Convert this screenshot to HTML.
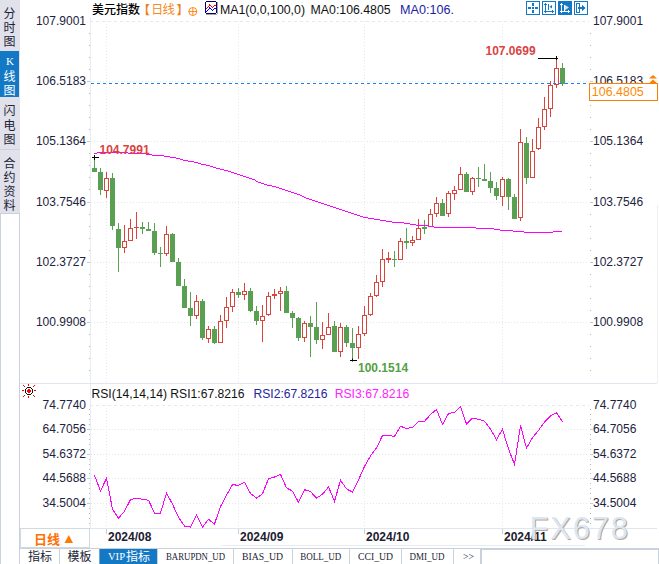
<!DOCTYPE html><html><head><meta charset="utf-8"><style>
html,body{margin:0;padding:0;background:#fff;width:659px;height:564px;overflow:hidden}
svg{display:block}
text{font-family:"Liberation Sans", Arial, sans-serif}
.cjk{font-family:"Liberation Sans", "Noto Sans CJK SC", sans-serif}
.sm{font-family:"Liberation Serif", "Noto Sans CJK SC", serif}
</style></head><body>
<svg width="659" height="564" viewBox="0 0 659 564">
<rect x="0" y="0" width="659" height="564" fill="#fff"/>
<rect x="0" y="0" width="20" height="213" fill="#e0e1eb"/>
<rect x="0" y="51" width="19" height="46" fill="#1479c4"/>
<rect x="0" y="149" width="20" height="1" fill="#cdd4dd"/>
<rect x="0" y="213" width="20" height="351" fill="#fff"/>
<rect x="0" y="213" width="20" height="1" fill="#c9d2dc"/>
<rect x="0" y="213" width="1" height="351" fill="#c9d2dc"/>
<rect x="19" y="213" width="1" height="351" fill="#c9d2dc"/>
<text class="sm" x="9.5" y="17.7" font-size="12" fill="#1b2535" text-anchor="middle">分</text>
<text class="sm" x="9.5" y="31.7" font-size="12" fill="#1b2535" text-anchor="middle">时</text>
<text class="sm" x="9.5" y="45.9" font-size="12" fill="#1b2535" text-anchor="middle">图</text>
<text x="10" y="65" font-size="11" fill="#fff" text-anchor="middle" style="font-family:'Liberation Serif', serif">K</text>
<text class="sm" x="9.5" y="80.7" font-size="12" fill="#ffffff" text-anchor="middle">线</text>
<text class="sm" x="9.5" y="94.9" font-size="12" fill="#ffffff" text-anchor="middle">图</text>
<text class="sm" x="9.5" y="115.1" font-size="12" fill="#1b2535" text-anchor="middle">闪</text>
<text class="sm" x="9.5" y="129.6" font-size="12" fill="#1b2535" text-anchor="middle">电</text>
<text class="sm" x="9.5" y="143.8" font-size="12" fill="#1b2535" text-anchor="middle">图</text>
<text class="sm" x="9.5" y="168.1" font-size="12" fill="#1b2535" text-anchor="middle">合</text>
<text class="sm" x="9.5" y="182.3" font-size="12" fill="#1b2535" text-anchor="middle">约</text>
<text class="sm" x="9.5" y="195.5" font-size="12" fill="#1b2535" text-anchor="middle">资</text>
<text class="sm" x="9.5" y="210.3" font-size="12" fill="#1b2535" text-anchor="middle">料</text>
<text class="cjk" x="92" y="14" font-size="12" font-weight="500" fill="#000">美元指数</text>
<text class="cjk" x="138" y="15" font-size="12" fill="#f07d1a" font-weight="bold">【</text>
<text class="cjk" x="151.2" y="14" font-size="12" fill="#f58a1f">日</text>
<text class="cjk" x="162.4" y="14" font-size="12.5" fill="#f58a1f">线</text>
<text class="cjk" x="176.5" y="15" font-size="12" fill="#f07d1a" font-weight="bold">】</text>
<g stroke="#ff8a20" fill="none" stroke-width="1"><circle cx="192.8" cy="11.5" r="4"/><path d="M188.8 11.5h8M192.8 7.5v8"/></g>
<rect x="206" y="2" width="10" height="11" fill="#fff"/><rect x="206" y="14" width="11" height="1" fill="#a8a898"/><rect x="217" y="2" width="1" height="12" fill="#a8a898"/><g fill="#00007c"><rect x="206" y="1" width="10" height="1"/><rect x="205" y="2" width="1" height="11"/><rect x="216" y="2" width="1" height="11"/><rect x="206" y="13" width="10" height="1"/></g><g fill="#ff0000"><rect x="206" y="8" width="1" height="1"/><rect x="207" y="7" width="1" height="1"/><rect x="208" y="6" width="1" height="1"/><rect x="209" y="5" width="1" height="1"/><rect x="209" y="4" width="1" height="1"/><rect x="210" y="5" width="1" height="1"/><rect x="211" y="6" width="1" height="1"/><rect x="212" y="7" width="1" height="1"/><rect x="213" y="6" width="1" height="1"/><rect x="214" y="5" width="1" height="1"/><rect x="215" y="5" width="1" height="1"/></g><g fill="#0000ff"><rect x="206" y="11" width="1" height="1"/><rect x="207" y="10" width="1" height="1"/><rect x="208" y="9" width="1" height="1"/><rect x="209" y="8" width="1" height="1"/><rect x="209" y="7" width="1" height="1"/><rect x="210" y="8" width="1" height="1"/><rect x="211" y="9" width="1" height="1"/><rect x="212" y="10" width="1" height="1"/><rect x="213" y="9" width="1" height="1"/><rect x="214" y="8" width="1" height="1"/><rect x="215" y="8" width="1" height="1"/></g>
<text x="220" y="14" font-size="12.5" fill="#111" textLength="85" lengthAdjust="spacingAndGlyphs">MA1(0,0,100,0)</text>
<text x="310.6" y="14" font-size="12.5" fill="#111" textLength="80" lengthAdjust="spacingAndGlyphs">MA0:106.4805</text>
<text x="400" y="14" font-size="12.5" fill="#1c1ca6" textLength="54" lengthAdjust="spacingAndGlyphs">MA0:106.</text>
<rect x="526.5" y="1.5" width="13" height="13" fill="#fff" stroke="#1479c4"/>
<rect x="542.5" y="1.5" width="13" height="13" fill="#fff" stroke="#1479c4"/>
<rect x="558" y="1" width="14" height="14" fill="#1479c4"/>
<rect x="574.5" y="1.5" width="13" height="13" fill="#fff" stroke="#1479c4"/>
<g fill="#1479c4"><rect x="532" y="3" width="2" height="3"/><rect x="532" y="7" width="2" height="2"/><rect x="532" y="10" width="2" height="3"/><rect x="528" y="7" width="3" height="2"/><rect x="535" y="7" width="3" height="2"/></g>
<g fill="#1479c4"><rect x="545" y="3" width="1" height="10"/><rect x="544" y="4" width="3" height="1"/><rect x="544" y="11" width="10" height="1"/><rect x="552" y="10" width="1" height="3"/><rect x="548" y="4" width="1" height="6"/></g>
<path d="M549.5 6.8L552 5v3.6z" fill="#1479c4"/>
<g fill="#fff"><rect x="561" y="3" width="1" height="10"/><rect x="560" y="4" width="3" height="1"/><rect x="560" y="11" width="10" height="1"/><rect x="568" y="10" width="1" height="3"/><rect x="564" y="5" width="1" height="6"/></g>
<path d="M565 5L569 7.6L565 10.2z" fill="#cfe2f3"/>
<rect x="576.5" y="3.5" width="3" height="9" fill="none" stroke="#1479c4"/>
<path d="M578 7h4v-2.2L585.6 8L582 11.2V9h-4z" fill="#1479c4"/>
<line x1="90" y1="21.5" x2="589" y2="21.5" stroke="#e4e9ee" stroke-dasharray="3 3"/>
<text x="86" y="24.5" font-size="12" fill="#1c2340" text-anchor="end">107.9001</text>
<text x="593" y="24.5" font-size="12" fill="#1c2340">107.9001</text>
<line x1="91" y1="81.5" x2="589" y2="81.5" stroke="#e2e7ec" stroke-dasharray="1 2"/>
<text x="86" y="84.5" font-size="12" fill="#1c2340" text-anchor="end">106.5183</text>
<text x="593" y="84.5" font-size="12" fill="#1c2340">106.5183</text>
<line x1="91" y1="141.5" x2="589" y2="141.5" stroke="#e2e7ec" stroke-dasharray="1 2"/>
<text x="86" y="144.5" font-size="12" fill="#1c2340" text-anchor="end">105.1364</text>
<text x="593" y="144.5" font-size="12" fill="#1c2340">105.1364</text>
<line x1="91" y1="202.5" x2="589" y2="202.5" stroke="#e2e7ec" stroke-dasharray="1 2"/>
<text x="86" y="205.5" font-size="12" fill="#1c2340" text-anchor="end">103.7546</text>
<text x="593" y="205.5" font-size="12" fill="#1c2340">103.7546</text>
<line x1="91" y1="262.5" x2="589" y2="262.5" stroke="#e2e7ec" stroke-dasharray="1 2"/>
<text x="86" y="265.5" font-size="12" fill="#1c2340" text-anchor="end">102.3727</text>
<text x="593" y="265.5" font-size="12" fill="#1c2340">102.3727</text>
<line x1="91" y1="322.5" x2="589" y2="322.5" stroke="#e2e7ec" stroke-dasharray="1 2"/>
<text x="86" y="325.5" font-size="12" fill="#1c2340" text-anchor="end">100.9908</text>
<text x="593" y="325.5" font-size="12" fill="#1c2340">100.9908</text>
<rect x="87" y="81" width="3" height="1" fill="#c6c9cf"/>
<rect x="590" y="81" width="3" height="1" fill="#c6c9cf"/>
<rect x="87" y="141" width="3" height="1" fill="#c6c9cf"/>
<rect x="590" y="141" width="3" height="1" fill="#c6c9cf"/>
<rect x="87" y="202" width="3" height="1" fill="#c6c9cf"/>
<rect x="590" y="202" width="3" height="1" fill="#c6c9cf"/>
<rect x="87" y="262" width="3" height="1" fill="#c6c9cf"/>
<rect x="590" y="262" width="3" height="1" fill="#c6c9cf"/>
<rect x="87" y="322" width="3" height="1" fill="#c6c9cf"/>
<rect x="590" y="322" width="3" height="1" fill="#c6c9cf"/>
<rect x="89" y="33" width="1" height="1" fill="#aeb5bd"/>
<rect x="590" y="33" width="1" height="1" fill="#aeb5bd"/>
<rect x="89" y="45" width="1" height="1" fill="#aeb5bd"/>
<rect x="590" y="45" width="1" height="1" fill="#aeb5bd"/>
<rect x="89" y="57" width="1" height="1" fill="#aeb5bd"/>
<rect x="590" y="57" width="1" height="1" fill="#aeb5bd"/>
<rect x="89" y="69" width="1" height="1" fill="#aeb5bd"/>
<rect x="590" y="69" width="1" height="1" fill="#aeb5bd"/>
<rect x="89" y="93" width="1" height="1" fill="#aeb5bd"/>
<rect x="590" y="93" width="1" height="1" fill="#aeb5bd"/>
<rect x="89" y="105" width="1" height="1" fill="#aeb5bd"/>
<rect x="590" y="105" width="1" height="1" fill="#aeb5bd"/>
<rect x="89" y="117" width="1" height="1" fill="#aeb5bd"/>
<rect x="590" y="117" width="1" height="1" fill="#aeb5bd"/>
<rect x="89" y="129" width="1" height="1" fill="#aeb5bd"/>
<rect x="590" y="129" width="1" height="1" fill="#aeb5bd"/>
<rect x="89" y="153" width="1" height="1" fill="#aeb5bd"/>
<rect x="590" y="153" width="1" height="1" fill="#aeb5bd"/>
<rect x="89" y="165" width="1" height="1" fill="#aeb5bd"/>
<rect x="590" y="165" width="1" height="1" fill="#aeb5bd"/>
<rect x="89" y="177" width="1" height="1" fill="#aeb5bd"/>
<rect x="590" y="177" width="1" height="1" fill="#aeb5bd"/>
<rect x="89" y="189" width="1" height="1" fill="#aeb5bd"/>
<rect x="590" y="189" width="1" height="1" fill="#aeb5bd"/>
<rect x="89" y="214" width="1" height="1" fill="#aeb5bd"/>
<rect x="590" y="214" width="1" height="1" fill="#aeb5bd"/>
<rect x="89" y="226" width="1" height="1" fill="#aeb5bd"/>
<rect x="590" y="226" width="1" height="1" fill="#aeb5bd"/>
<rect x="89" y="238" width="1" height="1" fill="#aeb5bd"/>
<rect x="590" y="238" width="1" height="1" fill="#aeb5bd"/>
<rect x="89" y="250" width="1" height="1" fill="#aeb5bd"/>
<rect x="590" y="250" width="1" height="1" fill="#aeb5bd"/>
<rect x="89" y="274" width="1" height="1" fill="#aeb5bd"/>
<rect x="590" y="274" width="1" height="1" fill="#aeb5bd"/>
<rect x="89" y="286" width="1" height="1" fill="#aeb5bd"/>
<rect x="590" y="286" width="1" height="1" fill="#aeb5bd"/>
<rect x="89" y="298" width="1" height="1" fill="#aeb5bd"/>
<rect x="590" y="298" width="1" height="1" fill="#aeb5bd"/>
<rect x="89" y="310" width="1" height="1" fill="#aeb5bd"/>
<rect x="590" y="310" width="1" height="1" fill="#aeb5bd"/>
<rect x="89" y="334" width="1" height="1" fill="#aeb5bd"/>
<rect x="590" y="334" width="1" height="1" fill="#aeb5bd"/>
<rect x="89" y="346" width="1" height="1" fill="#aeb5bd"/>
<rect x="590" y="346" width="1" height="1" fill="#aeb5bd"/>
<rect x="89" y="358" width="1" height="1" fill="#aeb5bd"/>
<rect x="590" y="358" width="1" height="1" fill="#aeb5bd"/>
<rect x="89" y="370" width="1" height="1" fill="#aeb5bd"/>
<rect x="590" y="370" width="1" height="1" fill="#aeb5bd"/>
<line x1="106.5" y1="21" x2="106.5" y2="383" stroke="#e6eaee" stroke-dasharray="1 2"/>
<line x1="106.5" y1="405" x2="106.5" y2="528" stroke="#e6eaee" stroke-dasharray="1 2"/>
<line x1="238.5" y1="21" x2="238.5" y2="383" stroke="#e6eaee" stroke-dasharray="1 2"/>
<line x1="238.5" y1="405" x2="238.5" y2="528" stroke="#e6eaee" stroke-dasharray="1 2"/>
<line x1="364.5" y1="21" x2="364.5" y2="383" stroke="#e6eaee" stroke-dasharray="1 2"/>
<line x1="364.5" y1="405" x2="364.5" y2="528" stroke="#e6eaee" stroke-dasharray="1 2"/>
<line x1="502.5" y1="21" x2="502.5" y2="383" stroke="#e6eaee" stroke-dasharray="1 2"/>
<line x1="502.5" y1="405" x2="502.5" y2="528" stroke="#e6eaee" stroke-dasharray="1 2"/>
<rect x="90" y="18" width="1" height="511" fill="#e8edf2"/>
<rect x="94" y="157" width="1" height="11" fill="#59a052"/>
<rect x="92" y="168" width="5" height="4" fill="#59a052"/>
<rect x="100" y="168" width="1" height="4" fill="#59a052"/>
<rect x="100" y="190" width="1" height="5" fill="#59a052"/>
<rect x="98" y="172" width="5" height="18" fill="#59a052"/>
<rect x="106" y="172" width="1" height="6" fill="#d9453d"/>
<rect x="106" y="191" width="1" height="7" fill="#d9453d"/>
<rect x="104.5" y="178.5" width="4" height="12" fill="#fff" stroke="#d9453d" stroke-width="1"/>
<rect x="112" y="173" width="1" height="5" fill="#59a052"/>
<rect x="112" y="226" width="1" height="4" fill="#59a052"/>
<rect x="110" y="178" width="5" height="48" fill="#59a052"/>
<rect x="118" y="223" width="1" height="6" fill="#59a052"/>
<rect x="118" y="248" width="1" height="24" fill="#59a052"/>
<rect x="116" y="229" width="5" height="19" fill="#59a052"/>
<rect x="124" y="225" width="1" height="16" fill="#d9453d"/>
<rect x="124" y="248" width="1" height="5" fill="#d9453d"/>
<rect x="122.5" y="241.5" width="4" height="6" fill="#fff" stroke="#d9453d" stroke-width="1"/>
<rect x="130" y="219" width="1" height="9" fill="#d9453d"/>
<rect x="128.5" y="228.5" width="4" height="12" fill="#fff" stroke="#d9453d" stroke-width="1"/>
<rect x="136" y="212" width="1" height="15" fill="#d9453d"/>
<rect x="136" y="228" width="1" height="11" fill="#d9453d"/>
<rect x="134" y="227" width="5" height="1" fill="#d9453d"/>
<rect x="142" y="222" width="1" height="5" fill="#59a052"/>
<rect x="142" y="229" width="1" height="5" fill="#59a052"/>
<rect x="140" y="227" width="5" height="2" fill="#59a052"/>
<rect x="148" y="222" width="1" height="7" fill="#59a052"/>
<rect x="146" y="229" width="5" height="2" fill="#59a052"/>
<rect x="154" y="223" width="1" height="8" fill="#59a052"/>
<rect x="154" y="253" width="1" height="2" fill="#59a052"/>
<rect x="152" y="231" width="5" height="22" fill="#59a052"/>
<rect x="160" y="247" width="1" height="6" fill="#59a052"/>
<rect x="160" y="254" width="1" height="13" fill="#59a052"/>
<rect x="158" y="253" width="5" height="1" fill="#59a052"/>
<rect x="166" y="226" width="1" height="8" fill="#d9453d"/>
<rect x="166" y="254" width="1" height="2" fill="#d9453d"/>
<rect x="164.5" y="234.5" width="4" height="19" fill="#fff" stroke="#d9453d" stroke-width="1"/>
<rect x="172" y="233" width="1" height="1" fill="#59a052"/>
<rect x="170" y="234" width="5" height="28" fill="#59a052"/>
<rect x="178" y="258" width="1" height="4" fill="#59a052"/>
<rect x="176" y="262" width="5" height="24" fill="#59a052"/>
<rect x="184" y="279" width="1" height="7" fill="#59a052"/>
<rect x="182" y="286" width="5" height="22" fill="#59a052"/>
<rect x="190" y="292" width="1" height="16" fill="#59a052"/>
<rect x="190" y="316" width="1" height="10" fill="#59a052"/>
<rect x="188" y="308" width="5" height="8" fill="#59a052"/>
<rect x="196" y="295" width="1" height="6" fill="#d9453d"/>
<rect x="196" y="316" width="1" height="3" fill="#d9453d"/>
<rect x="194.5" y="301.5" width="4" height="14" fill="#fff" stroke="#d9453d" stroke-width="1"/>
<rect x="202" y="299" width="1" height="2" fill="#59a052"/>
<rect x="202" y="338" width="1" height="2" fill="#59a052"/>
<rect x="200" y="301" width="5" height="37" fill="#59a052"/>
<rect x="208" y="326" width="1" height="3" fill="#d9453d"/>
<rect x="208" y="339" width="1" height="4" fill="#d9453d"/>
<rect x="206.5" y="329.5" width="4" height="9" fill="#fff" stroke="#d9453d" stroke-width="1"/>
<rect x="214" y="326" width="1" height="3" fill="#59a052"/>
<rect x="214" y="343" width="1" height="1" fill="#59a052"/>
<rect x="212" y="329" width="5" height="14" fill="#59a052"/>
<rect x="220" y="315" width="1" height="6" fill="#d9453d"/>
<rect x="218.5" y="321.5" width="4" height="21" fill="#fff" stroke="#d9453d" stroke-width="1"/>
<rect x="226" y="297" width="1" height="10" fill="#d9453d"/>
<rect x="226" y="321" width="1" height="7" fill="#d9453d"/>
<rect x="224.5" y="307.5" width="4" height="13" fill="#fff" stroke="#d9453d" stroke-width="1"/>
<rect x="232" y="289" width="1" height="3" fill="#d9453d"/>
<rect x="232" y="307" width="1" height="5" fill="#d9453d"/>
<rect x="230.5" y="292.5" width="4" height="14" fill="#fff" stroke="#d9453d" stroke-width="1"/>
<rect x="238" y="288" width="1" height="4" fill="#59a052"/>
<rect x="238" y="295" width="1" height="3" fill="#59a052"/>
<rect x="236" y="292" width="5" height="3" fill="#59a052"/>
<rect x="244" y="283" width="1" height="8" fill="#d9453d"/>
<rect x="244" y="295" width="1" height="5" fill="#d9453d"/>
<rect x="242.5" y="291.5" width="4" height="3" fill="#fff" stroke="#d9453d" stroke-width="1"/>
<rect x="250" y="288" width="1" height="3" fill="#59a052"/>
<rect x="250" y="311" width="1" height="1" fill="#59a052"/>
<rect x="248" y="291" width="5" height="20" fill="#59a052"/>
<rect x="256" y="306" width="1" height="5" fill="#59a052"/>
<rect x="256" y="321" width="1" height="4" fill="#59a052"/>
<rect x="254" y="311" width="5" height="10" fill="#59a052"/>
<rect x="262" y="305" width="1" height="11" fill="#d9453d"/>
<rect x="262" y="321" width="1" height="21" fill="#d9453d"/>
<rect x="260.5" y="316.5" width="4" height="4" fill="#fff" stroke="#d9453d" stroke-width="1"/>
<rect x="268" y="292" width="1" height="4" fill="#d9453d"/>
<rect x="268" y="315" width="1" height="1" fill="#d9453d"/>
<rect x="266.5" y="296.5" width="4" height="18" fill="#fff" stroke="#d9453d" stroke-width="1"/>
<rect x="274" y="289" width="1" height="5" fill="#d9453d"/>
<rect x="274" y="296" width="1" height="3" fill="#d9453d"/>
<rect x="272" y="294" width="5" height="2" fill="#d9453d"/>
<rect x="280" y="287" width="1" height="4" fill="#d9453d"/>
<rect x="280" y="294" width="1" height="17" fill="#d9453d"/>
<rect x="278.5" y="291.5" width="4" height="2" fill="#fff" stroke="#d9453d" stroke-width="1"/>
<rect x="286" y="286" width="1" height="5" fill="#59a052"/>
<rect x="284" y="291" width="5" height="22" fill="#59a052"/>
<rect x="292" y="311" width="1" height="2" fill="#59a052"/>
<rect x="292" y="318" width="1" height="10" fill="#59a052"/>
<rect x="290" y="313" width="5" height="5" fill="#59a052"/>
<rect x="298" y="317" width="1" height="1" fill="#59a052"/>
<rect x="298" y="338" width="1" height="3" fill="#59a052"/>
<rect x="296" y="318" width="5" height="20" fill="#59a052"/>
<rect x="304" y="321" width="1" height="2" fill="#d9453d"/>
<rect x="304" y="338" width="1" height="4" fill="#d9453d"/>
<rect x="302.5" y="323.5" width="4" height="14" fill="#fff" stroke="#d9453d" stroke-width="1"/>
<rect x="310" y="316" width="1" height="7" fill="#59a052"/>
<rect x="310" y="327" width="1" height="30" fill="#59a052"/>
<rect x="308" y="323" width="5" height="4" fill="#59a052"/>
<rect x="316" y="302" width="1" height="25" fill="#59a052"/>
<rect x="316" y="340" width="1" height="4" fill="#59a052"/>
<rect x="314" y="327" width="5" height="13" fill="#59a052"/>
<rect x="322" y="322" width="1" height="13" fill="#d9453d"/>
<rect x="322" y="340" width="1" height="9" fill="#d9453d"/>
<rect x="320.5" y="335.5" width="4" height="4" fill="#fff" stroke="#d9453d" stroke-width="1"/>
<rect x="328" y="313" width="1" height="14" fill="#d9453d"/>
<rect x="326.5" y="327.5" width="4" height="7" fill="#fff" stroke="#d9453d" stroke-width="1"/>
<rect x="334" y="321" width="1" height="5" fill="#59a052"/>
<rect x="332" y="326" width="5" height="26" fill="#59a052"/>
<rect x="340" y="323" width="1" height="4" fill="#d9453d"/>
<rect x="340" y="352" width="1" height="5" fill="#d9453d"/>
<rect x="338.5" y="327.5" width="4" height="24" fill="#fff" stroke="#d9453d" stroke-width="1"/>
<rect x="346" y="325" width="1" height="2" fill="#59a052"/>
<rect x="346" y="343" width="1" height="4" fill="#59a052"/>
<rect x="344" y="327" width="5" height="16" fill="#59a052"/>
<rect x="352" y="328" width="1" height="15" fill="#59a052"/>
<rect x="352" y="348" width="1" height="12" fill="#59a052"/>
<rect x="350" y="343" width="5" height="5" fill="#59a052"/>
<rect x="358" y="326" width="1" height="8" fill="#d9453d"/>
<rect x="358" y="348" width="1" height="11" fill="#d9453d"/>
<rect x="356.5" y="334.5" width="4" height="13" fill="#fff" stroke="#d9453d" stroke-width="1"/>
<rect x="364" y="306" width="1" height="9" fill="#d9453d"/>
<rect x="364" y="334" width="1" height="2" fill="#d9453d"/>
<rect x="362.5" y="315.5" width="4" height="18" fill="#fff" stroke="#d9453d" stroke-width="1"/>
<rect x="370" y="293" width="1" height="3" fill="#d9453d"/>
<rect x="370" y="315" width="1" height="1" fill="#d9453d"/>
<rect x="368.5" y="296.5" width="4" height="18" fill="#fff" stroke="#d9453d" stroke-width="1"/>
<rect x="376" y="275" width="1" height="7" fill="#d9453d"/>
<rect x="376" y="296" width="1" height="1" fill="#d9453d"/>
<rect x="374.5" y="282.5" width="4" height="13" fill="#fff" stroke="#d9453d" stroke-width="1"/>
<rect x="382" y="249" width="1" height="10" fill="#d9453d"/>
<rect x="382" y="282" width="1" height="5" fill="#d9453d"/>
<rect x="380.5" y="259.5" width="4" height="22" fill="#fff" stroke="#d9453d" stroke-width="1"/>
<rect x="388" y="252" width="1" height="6" fill="#d9453d"/>
<rect x="388" y="260" width="1" height="3" fill="#d9453d"/>
<rect x="386" y="258" width="5" height="2" fill="#d9453d"/>
<rect x="394" y="251" width="1" height="8" fill="#59a052"/>
<rect x="394" y="260" width="1" height="7" fill="#59a052"/>
<rect x="392" y="259" width="5" height="1" fill="#59a052"/>
<rect x="400" y="238" width="1" height="3" fill="#d9453d"/>
<rect x="398.5" y="241.5" width="4" height="18" fill="#fff" stroke="#d9453d" stroke-width="1"/>
<rect x="406" y="228" width="1" height="13" fill="#59a052"/>
<rect x="406" y="243" width="1" height="6" fill="#59a052"/>
<rect x="404" y="241" width="5" height="2" fill="#59a052"/>
<rect x="412" y="236" width="1" height="4" fill="#d9453d"/>
<rect x="412" y="243" width="1" height="3" fill="#d9453d"/>
<rect x="410.5" y="240.5" width="4" height="2" fill="#fff" stroke="#d9453d" stroke-width="1"/>
<rect x="418" y="219" width="1" height="9" fill="#d9453d"/>
<rect x="416.5" y="228.5" width="4" height="11" fill="#fff" stroke="#d9453d" stroke-width="1"/>
<rect x="424" y="220" width="1" height="7" fill="#59a052"/>
<rect x="424" y="229" width="1" height="5" fill="#59a052"/>
<rect x="422" y="227" width="5" height="2" fill="#59a052"/>
<rect x="430" y="209" width="1" height="5" fill="#d9453d"/>
<rect x="428.5" y="214.5" width="4" height="12" fill="#fff" stroke="#d9453d" stroke-width="1"/>
<rect x="436" y="197" width="1" height="6" fill="#d9453d"/>
<rect x="436" y="214" width="1" height="3" fill="#d9453d"/>
<rect x="434.5" y="203.5" width="4" height="10" fill="#fff" stroke="#d9453d" stroke-width="1"/>
<rect x="442" y="199" width="1" height="4" fill="#59a052"/>
<rect x="440" y="203" width="5" height="13" fill="#59a052"/>
<rect x="448" y="191" width="1" height="2" fill="#d9453d"/>
<rect x="448" y="214" width="1" height="3" fill="#d9453d"/>
<rect x="446.5" y="193.5" width="4" height="20" fill="#fff" stroke="#d9453d" stroke-width="1"/>
<rect x="454" y="186" width="1" height="4" fill="#d9453d"/>
<rect x="454" y="194" width="1" height="6" fill="#d9453d"/>
<rect x="452.5" y="190.5" width="4" height="3" fill="#fff" stroke="#d9453d" stroke-width="1"/>
<rect x="460" y="167" width="1" height="7" fill="#d9453d"/>
<rect x="458.5" y="174.5" width="4" height="15" fill="#fff" stroke="#d9453d" stroke-width="1"/>
<rect x="466" y="172" width="1" height="2" fill="#59a052"/>
<rect x="464" y="174" width="5" height="18" fill="#59a052"/>
<rect x="472" y="177" width="1" height="1" fill="#d9453d"/>
<rect x="472" y="192" width="1" height="3" fill="#d9453d"/>
<rect x="470.5" y="178.5" width="4" height="13" fill="#fff" stroke="#d9453d" stroke-width="1"/>
<rect x="478" y="167" width="1" height="11" fill="#59a052"/>
<rect x="478" y="179" width="1" height="8" fill="#59a052"/>
<rect x="476" y="178" width="5" height="1" fill="#59a052"/>
<rect x="484" y="164" width="1" height="15" fill="#59a052"/>
<rect x="482" y="179" width="5" height="2" fill="#59a052"/>
<rect x="490" y="172" width="1" height="9" fill="#59a052"/>
<rect x="490" y="188" width="1" height="5" fill="#59a052"/>
<rect x="488" y="181" width="5" height="7" fill="#59a052"/>
<rect x="496" y="182" width="1" height="6" fill="#59a052"/>
<rect x="496" y="196" width="1" height="4" fill="#59a052"/>
<rect x="494" y="188" width="5" height="8" fill="#59a052"/>
<rect x="502" y="177" width="1" height="2" fill="#d9453d"/>
<rect x="502" y="197" width="1" height="9" fill="#d9453d"/>
<rect x="500.5" y="179.5" width="4" height="17" fill="#fff" stroke="#d9453d" stroke-width="1"/>
<rect x="508" y="178" width="1" height="1" fill="#59a052"/>
<rect x="508" y="197" width="1" height="13" fill="#59a052"/>
<rect x="506" y="179" width="5" height="18" fill="#59a052"/>
<rect x="514" y="194" width="1" height="3" fill="#59a052"/>
<rect x="512" y="197" width="5" height="22" fill="#59a052"/>
<rect x="520" y="129" width="1" height="13" fill="#d9453d"/>
<rect x="520" y="218" width="1" height="3" fill="#d9453d"/>
<rect x="518.5" y="142.5" width="4" height="75" fill="#fff" stroke="#d9453d" stroke-width="1"/>
<rect x="526" y="137" width="1" height="6" fill="#59a052"/>
<rect x="526" y="178" width="1" height="6" fill="#59a052"/>
<rect x="524" y="143" width="5" height="35" fill="#59a052"/>
<rect x="532" y="139" width="1" height="12" fill="#d9453d"/>
<rect x="530.5" y="151.5" width="4" height="26" fill="#fff" stroke="#d9453d" stroke-width="1"/>
<rect x="538" y="118" width="1" height="9" fill="#d9453d"/>
<rect x="538" y="149" width="1" height="1" fill="#d9453d"/>
<rect x="536.5" y="127.5" width="4" height="21" fill="#fff" stroke="#d9453d" stroke-width="1"/>
<rect x="544" y="97" width="1" height="12" fill="#d9453d"/>
<rect x="544" y="127" width="1" height="3" fill="#d9453d"/>
<rect x="542.5" y="109.5" width="4" height="17" fill="#fff" stroke="#d9453d" stroke-width="1"/>
<rect x="550" y="81" width="1" height="4" fill="#d9453d"/>
<rect x="550" y="109" width="1" height="8" fill="#d9453d"/>
<rect x="548.5" y="85.5" width="4" height="23" fill="#fff" stroke="#d9453d" stroke-width="1"/>
<rect x="556" y="58" width="1" height="10" fill="#d9453d"/>
<rect x="556" y="85" width="1" height="3" fill="#d9453d"/>
<rect x="554.5" y="68.5" width="4" height="16" fill="#fff" stroke="#d9453d" stroke-width="1"/>
<rect x="562" y="63" width="1" height="5" fill="#59a052"/>
<rect x="562" y="84" width="1" height="2" fill="#59a052"/>
<rect x="560" y="68" width="5" height="16" fill="#59a052"/>
<path fill="#ff00ff" d="M94 153h3v1h-3zM97 152h31v1h-31zM128 153h18v1h-18zM146 154h6v1h-6zM152 155h12v1h-12zM164 156h6v1h-6zM170 157h6v1h-6zM176 158h4v1h-4zM180 159h3v1h-3zM183 160h5v1h-5zM188 161h6v1h-6zM194 162h4v1h-4zM198 163h3v1h-3zM201 164h5v1h-5zM206 165h4v1h-4zM210 166h3v1h-3zM213 167h3v1h-3zM216 168h4v1h-4zM220 169h4v1h-4zM224 170h4v1h-4zM228 171h3v1h-3zM231 172h3v1h-3zM234 173h3v1h-3zM237 174h3v1h-3zM240 175h3v1h-3zM243 176h3v1h-3zM246 177h3v1h-3zM249 178h3v1h-3zM252 179h3v1h-3zM255 180h1v1h-1zM256 181h2v1h-2zM258 182h3v1h-3zM261 183h3v1h-3zM264 184h3v1h-3zM267 185h5v1h-5zM272 186h4v1h-4zM276 187h3v1h-3zM279 188h3v1h-3zM282 189h3v1h-3zM285 190h3v1h-3zM288 191h3v1h-3zM291 192h3v1h-3zM294 193h3v1h-3zM297 194h3v1h-3zM300 195h2v1h-2zM302 196h2v1h-2zM304 197h2v1h-2zM306 198h3v1h-3zM309 199h3v1h-3zM312 200h3v1h-3zM315 201h3v1h-3zM318 202h3v1h-3zM321 203h3v1h-3zM324 204h3v1h-3zM327 205h3v1h-3zM330 206h3v1h-3zM333 207h3v1h-3zM336 208h3v1h-3zM339 209h3v1h-3zM342 210h3v1h-3zM345 211h3v1h-3zM348 212h3v1h-3zM351 213h3v1h-3zM354 214h3v1h-3zM357 215h3v1h-3zM360 216h3v1h-3zM363 217h5v1h-5zM368 218h6v1h-6zM374 219h6v1h-6zM380 220h6v1h-6zM386 221h6v1h-6zM392 222h12v1h-12zM404 223h6v1h-6zM410 224h6v1h-6zM416 225h12v1h-12zM428 226h6v1h-6zM434 227h42v1h-42zM476 228h18v1h-18zM494 229h6v1h-6zM500 230h13v1h-13zM513 231h11v1h-11zM524 232h29v1h-29zM553 231h9v1h-9z"/>
<line x1="91" y1="83.5" x2="589" y2="83.5" stroke="#1a80f0" stroke-dasharray="3 3"/>
<text x="99.5" y="153.5" font-size="12" font-weight="bold" fill="#d94444">104.7991</text>
<path d="M92 157.5h7M94.5 155v5" stroke="#000" stroke-width="1"/>
<text x="485.5" y="55" font-size="12" font-weight="bold" fill="#d94444">107.0699</text>
<path d="M538 58.5h20M556.5 56v4" stroke="#000" stroke-width="1"/>
<text x="358" y="371.5" font-size="12" font-weight="bold" fill="#559f45">100.1514</text>
<path d="M350 360.5h7M352.5 358.5v3" stroke="#000" stroke-width="1"/>
<rect x="589.5" y="83.5" width="68" height="17" fill="#fff" stroke="#ff7f00"/>
<text x="591.8" y="96" font-size="12.3" fill="#ff8a00" textLength="52" lengthAdjust="spacingAndGlyphs">106.4805</text>
<path d="M649 78.6L653 75L657 78.6Z M649 83.2L653 79.4L657 83.2Z" fill="#ff7f00"/>
<rect x="657" y="205" width="1" height="178" fill="#eef1f4"/>
<rect x="20" y="383" width="637" height="1" fill="#dfe6ee"/>
<rect x="27" y="387" width="4" height="1" fill="#111"/>
<rect x="27" y="394" width="4" height="1" fill="#111"/>
<rect x="25" y="389" width="1" height="4" fill="#111"/>
<rect x="32" y="389" width="1" height="4" fill="#111"/>
<rect x="26" y="388" width="1" height="1" fill="#111"/>
<rect x="31" y="388" width="1" height="1" fill="#111"/>
<rect x="26" y="393" width="1" height="1" fill="#111"/>
<rect x="31" y="393" width="1" height="1" fill="#111"/>
<rect x="28" y="389" width="2" height="1" fill="#f00"/>
<rect x="27" y="390" width="4" height="2" fill="#f00"/>
<rect x="28" y="392" width="2" height="1" fill="#f00"/>
<rect x="28" y="384" width="1" height="2" fill="#f00"/>
<rect x="28" y="396" width="1" height="2" fill="#f00"/>
<rect x="22" y="390" width="2" height="1" fill="#f00"/>
<rect x="34" y="390" width="2" height="1" fill="#f00"/>
<rect x="23" y="385" width="1" height="1" fill="#f00"/>
<rect x="24" y="386" width="1" height="1" fill="#f00"/>
<rect x="34" y="385" width="1" height="1" fill="#f00"/>
<rect x="33" y="386" width="1" height="1" fill="#f00"/>
<rect x="23" y="396" width="1" height="1" fill="#f00"/>
<rect x="24" y="395" width="1" height="1" fill="#f00"/>
<rect x="33" y="395" width="1" height="1" fill="#f00"/>
<rect x="34" y="396" width="1" height="1" fill="#f00"/>
<text x="91.5" y="398.3" font-size="12.6" fill="#111" textLength="153" lengthAdjust="spacingAndGlyphs">RSI(14,14,14) RSI1:67.8216</text>
<text x="253.5" y="398.3" font-size="12.6" fill="#2424a0" textLength="74" lengthAdjust="spacingAndGlyphs">RSI2:67.8216</text>
<text x="334.7" y="398.3" font-size="12.6" fill="#ff20ff" textLength="74.5" lengthAdjust="spacingAndGlyphs">RSI3:67.8216</text>
<line x1="90" y1="405.5" x2="589" y2="405.5" stroke="#e4e9ee" stroke-dasharray="3 3"/>
<text x="86" y="408.5" font-size="12" fill="#1c2340" text-anchor="end">74.7740</text>
<text x="593" y="408.5" font-size="12" fill="#1c2340">74.7740</text>
<line x1="91" y1="429.5" x2="589" y2="429.5" stroke="#e2e7ec" stroke-dasharray="1 2"/>
<text x="86" y="432.5" font-size="12" fill="#1c2340" text-anchor="end">64.7056</text>
<text x="593" y="432.5" font-size="12" fill="#1c2340">64.7056</text>
<line x1="91" y1="454.5" x2="589" y2="454.5" stroke="#e2e7ec" stroke-dasharray="1 2"/>
<text x="86" y="457.5" font-size="12" fill="#1c2340" text-anchor="end">54.6372</text>
<text x="593" y="457.5" font-size="12" fill="#1c2340">54.6372</text>
<line x1="91" y1="478.5" x2="589" y2="478.5" stroke="#e2e7ec" stroke-dasharray="1 2"/>
<text x="86" y="481.5" font-size="12" fill="#1c2340" text-anchor="end">44.5688</text>
<text x="593" y="481.5" font-size="12" fill="#1c2340">44.5688</text>
<line x1="91" y1="503.5" x2="589" y2="503.5" stroke="#e2e7ec" stroke-dasharray="1 2"/>
<text x="86" y="506.5" font-size="12" fill="#1c2340" text-anchor="end">34.5004</text>
<text x="593" y="506.5" font-size="12" fill="#1c2340">34.5004</text>
<rect x="87" y="429" width="3" height="1" fill="#c6c9cf"/>
<rect x="590" y="429" width="3" height="1" fill="#c6c9cf"/>
<rect x="87" y="454" width="3" height="1" fill="#c6c9cf"/>
<rect x="590" y="454" width="3" height="1" fill="#c6c9cf"/>
<rect x="87" y="478" width="3" height="1" fill="#c6c9cf"/>
<rect x="590" y="478" width="3" height="1" fill="#c6c9cf"/>
<rect x="87" y="503" width="3" height="1" fill="#c6c9cf"/>
<rect x="590" y="503" width="3" height="1" fill="#c6c9cf"/>
<rect x="89" y="409" width="1" height="1" fill="#aeb5bd"/>
<rect x="590" y="409" width="1" height="1" fill="#aeb5bd"/>
<rect x="89" y="414" width="1" height="1" fill="#aeb5bd"/>
<rect x="590" y="414" width="1" height="1" fill="#aeb5bd"/>
<rect x="89" y="419" width="1" height="1" fill="#aeb5bd"/>
<rect x="590" y="419" width="1" height="1" fill="#aeb5bd"/>
<rect x="89" y="424" width="1" height="1" fill="#aeb5bd"/>
<rect x="590" y="424" width="1" height="1" fill="#aeb5bd"/>
<rect x="89" y="434" width="1" height="1" fill="#aeb5bd"/>
<rect x="590" y="434" width="1" height="1" fill="#aeb5bd"/>
<rect x="89" y="439" width="1" height="1" fill="#aeb5bd"/>
<rect x="590" y="439" width="1" height="1" fill="#aeb5bd"/>
<rect x="89" y="444" width="1" height="1" fill="#aeb5bd"/>
<rect x="590" y="444" width="1" height="1" fill="#aeb5bd"/>
<rect x="89" y="449" width="1" height="1" fill="#aeb5bd"/>
<rect x="590" y="449" width="1" height="1" fill="#aeb5bd"/>
<rect x="89" y="459" width="1" height="1" fill="#aeb5bd"/>
<rect x="590" y="459" width="1" height="1" fill="#aeb5bd"/>
<rect x="89" y="464" width="1" height="1" fill="#aeb5bd"/>
<rect x="590" y="464" width="1" height="1" fill="#aeb5bd"/>
<rect x="89" y="469" width="1" height="1" fill="#aeb5bd"/>
<rect x="590" y="469" width="1" height="1" fill="#aeb5bd"/>
<rect x="89" y="473" width="1" height="1" fill="#aeb5bd"/>
<rect x="590" y="473" width="1" height="1" fill="#aeb5bd"/>
<rect x="89" y="483" width="1" height="1" fill="#aeb5bd"/>
<rect x="590" y="483" width="1" height="1" fill="#aeb5bd"/>
<rect x="89" y="488" width="1" height="1" fill="#aeb5bd"/>
<rect x="590" y="488" width="1" height="1" fill="#aeb5bd"/>
<rect x="89" y="493" width="1" height="1" fill="#aeb5bd"/>
<rect x="590" y="493" width="1" height="1" fill="#aeb5bd"/>
<rect x="89" y="498" width="1" height="1" fill="#aeb5bd"/>
<rect x="590" y="498" width="1" height="1" fill="#aeb5bd"/>
<rect x="89" y="508" width="1" height="1" fill="#aeb5bd"/>
<rect x="590" y="508" width="1" height="1" fill="#aeb5bd"/>
<rect x="89" y="513" width="1" height="1" fill="#aeb5bd"/>
<rect x="590" y="513" width="1" height="1" fill="#aeb5bd"/>
<rect x="89" y="518" width="1" height="1" fill="#aeb5bd"/>
<rect x="590" y="518" width="1" height="1" fill="#aeb5bd"/>
<rect x="89" y="523" width="1" height="1" fill="#aeb5bd"/>
<rect x="590" y="523" width="1" height="1" fill="#aeb5bd"/>
<polyline fill="none" stroke="#ff00ff" stroke-width="1" shape-rendering="crispEdges" points="94.5,475.4 100.5,491.0 106.5,478.3 112.5,509.1 118.5,518.2 124.5,511.3 130.5,499.5 136.5,498.2 142.5,499.2 148.5,500.2 154.5,513.1 160.5,513.1 166.5,493.0 172.5,504.2 178.5,517.4 184.5,526.0 190.5,527.0 196.5,515.2 202.5,527.0 208.5,519.3 214.5,524.0 220.5,506.6 226.5,495.2 232.5,484.6 238.5,485.4 244.5,482.4 250.5,493.4 256.5,498.1 262.5,493.7 268.5,478.8 274.5,477.0 280.5,474.3 286.5,487.8 292.5,491.2 298.5,502.4 304.5,489.7 310.5,491.6 316.5,498.1 322.5,494.2 328.5,487.0 334.5,501.3 340.5,480.3 346.5,488.9 352.5,492.1 358.5,479.8 364.5,466.3 370.5,455.9 376.5,447.9 382.5,435.5 388.5,435.4 394.5,436.5 400.5,426.3 406.5,428.4 412.5,427.4 418.5,421.3 424.5,421.3 430.5,414.5 436.5,409.5 442.5,424.4 448.5,413.5 454.5,412.3 460.5,406.4 466.5,424.0 472.5,418.1 478.5,419.3 484.5,421.3 490.5,429.0 496.5,439.6 502.5,429.4 508.5,448.9 514.5,464.4 520.5,425.5 526.5,448.2 532.5,437.7 538.5,430.4 544.5,422.0 550.5,416.0 556.5,412.6 562.5,421.6"/>
<rect x="20" y="528" width="637" height="1" fill="#dfe6ee"/>
<rect x="222" y="545" width="363" height="1" fill="#e6ecf2"/>
<rect x="20.5" y="528.5" width="69" height="19" fill="#fff" stroke="#d0d8e0"/>
<text class="cjk" x="34" y="543.5" font-size="13" font-weight="bold" fill="#ff7000">日线</text>
<path d="M64.5 543h8.5l-4.25-8z" fill="#ff7a00"/>
<rect x="106" y="529" width="1" height="5" fill="#c8d0d8"/>
<text x="108" y="541" font-size="12" font-weight="bold" fill="#1c2030">2024/08</text>
<rect x="238" y="529" width="1" height="5" fill="#c8d0d8"/>
<text x="240" y="541" font-size="12" font-weight="bold" fill="#1c2030">2024/09</text>
<rect x="364" y="529" width="1" height="5" fill="#c8d0d8"/>
<text x="366" y="541" font-size="12" font-weight="bold" fill="#1c2030">2024/10</text>
<rect x="502" y="529" width="1" height="5" fill="#c8d0d8"/>
<text x="504" y="541" font-size="12" font-weight="bold" fill="#1c2030">2024/11</text>
<rect x="20" y="548" width="639" height="1" fill="#c9d2dc"/>
<rect x="59" y="549" width="1" height="15" fill="#c9d2dc"/>
<rect x="99" y="549" width="1" height="15" fill="#c9d2dc"/>
<rect x="157" y="549" width="1" height="15" fill="#c9d2dc"/>
<rect x="233" y="549" width="1" height="15" fill="#c9d2dc"/>
<rect x="292" y="549" width="1" height="15" fill="#c9d2dc"/>
<rect x="349" y="549" width="1" height="15" fill="#c9d2dc"/>
<rect x="401" y="549" width="1" height="15" fill="#c9d2dc"/>
<rect x="453" y="549" width="1" height="15" fill="#c9d2dc"/>
<rect x="480" y="549" width="1" height="15" fill="#c9d2dc"/>
<rect x="99.5" y="549" width="57.5" height="15" fill="#1479c4"/>
<text class="cjk" x="28.0" y="560.5" font-size="12" fill="#1b2535">指标</text>
<text class="cjk" x="67.5" y="560.5" font-size="12" fill="#1b2535">模板</text>
<text x="108.0" y="560" font-size="11" fill="#fff" style="font-family:'Liberation Serif', serif" textLength="17" lengthAdjust="spacingAndGlyphs">VIP</text>
<text class="cjk" x="126.0" y="560.5" font-size="12" fill="#fff">指标</text>
<text x="166.0" y="560" font-size="11" fill="#1b2535" style="font-family:'Liberation Serif', serif" textLength="59" lengthAdjust="spacingAndGlyphs">BARUPDN_UD</text>
<text x="242.0" y="560" font-size="11" fill="#1b2535" style="font-family:'Liberation Serif', serif" textLength="41" lengthAdjust="spacingAndGlyphs">BIAS_UD</text>
<text x="300.3" y="560" font-size="11" fill="#1b2535" style="font-family:'Liberation Serif', serif" textLength="41" lengthAdjust="spacingAndGlyphs">BOLL_UD</text>
<text x="358.0" y="560" font-size="11" fill="#1b2535" style="font-family:'Liberation Serif', serif" textLength="35" lengthAdjust="spacingAndGlyphs">CCI_UD</text>
<text x="409.5" y="560" font-size="11" fill="#1b2535" style="font-family:'Liberation Serif', serif" textLength="35" lengthAdjust="spacingAndGlyphs">DMI_UD</text>
<text x="463.0" y="560" font-size="11" fill="#1b2535" style="font-family:'Liberation Serif', serif" textLength="11" lengthAdjust="spacingAndGlyphs">&gt;&gt;</text>
<rect x="481.5" y="549.5" width="177" height="15" fill="#fff" stroke="#c9d2dc"/>
<text x="530.5" y="540" font-size="31" fill="#bda58e" style="letter-spacing:1.8px">FX678</text>
<text x="529.5" y="539" font-size="31" fill="#d9e7f6" style="letter-spacing:1.8px">FX678</text>
</svg></body></html>
